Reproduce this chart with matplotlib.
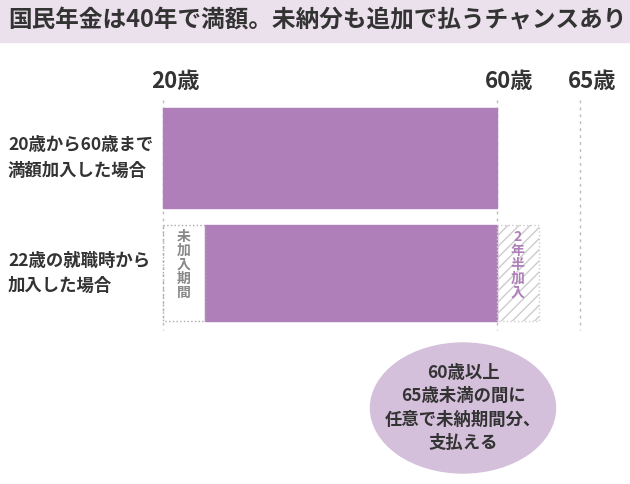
import numpy as np
import matplotlib.pyplot as plt
from matplotlib.patches import Rectangle, Ellipse

plt.rcParams['font.family'] = ['Noto Sans CJK JP', 'DejaVu Sans']

title = "国民年金は40年で満額。未納分も追加で払うチャンスあり"
tick_ages = [20, 60, 65]
tick_labels = ["20歳", "60歳", "65歳"]
row_labels = ["20歳から60歳まで\n満額加入した場合", "22歳の就職時から\n加入した場合"]
bar_start = [20, 25]   # as drawn (not to scale)
bar_end = [60, 60]
extra_end = 62.5       # 2年半加入

PURPLE = "#ae7fb8"
LIGHT = "#ebe1ec"
BUBBLE = "#d5c0dc"
GRAY = "#888888"

# the chart's age axis is piecewise: 20-60 and 60-65 have different widths
def X(age):
    return np.interp(age, [20, 60, 65], [163, 497, 580])

fig = plt.figure(figsize=(6.3, 4.84), dpi=100)
ax = fig.add_axes([0, 0, 1, 1])
ax.set_xlim(0, 630)
ax.set_ylim(484, 0)
ax.axis("off")

# title band
ax.add_patch(Rectangle((0, 0), 630, 42, color=LIGHT, zorder=0))
ax.text(8, 21, title, fontsize=17, fontweight="bold", va="center", ha="left", color="#333333")

# guide lines
for a, lab in zip(tick_ages, tick_labels):
    ax.plot([X(a), X(a)], [100, 330], ls=(0, (2, 3)), color="#bbbbbb", lw=1, zorder=1)
    ax.text(X(a) + 12, 82, lab, fontsize=16, fontweight="bold", ha="center",
            va="center", color="#333333")

rows = [(108, 100), (225, 96)]
for (y0, h), s, e, lab in zip(rows, bar_start, bar_end, row_labels):
    ax.add_patch(Rectangle((X(s), y0), X(e) - X(s), h, color=PURPLE, zorder=2))
    ax.text(8, y0 + h / 2, lab, fontsize=12.5, fontweight="bold", ha="left",
            va="center", color="#333333", linespacing=1.5)

# unenrolled period
y0, h = rows[1]
ax.add_patch(Rectangle((X(20), y0), X(bar_start[1]) - X(20), h, fill=False, ls=":",
                       ec="#aaaaaa", lw=1, zorder=2))
ax.text((X(20) + X(bar_start[1])) / 2, y0 + 40, "未\n加\n入\n期\n間", fontsize=10,
        fontweight="bold", ha="center", va="center", color=GRAY, linespacing=1.0)
# extra enrollment hatched
ax.add_patch(Rectangle((X(60), y0), X(extra_end) - X(60), h, fill=False, hatch="///",
                       ec="#cccccc", lw=0, zorder=2))
ax.add_patch(Rectangle((X(60), y0), X(extra_end) - X(60), h, fill=False, ls=":",
                       ec="#cccccc", lw=1, zorder=2))
ax.text((X(60) + X(extra_end)) / 2, y0 + 40, "2\n年\n半\n加\n入", fontsize=10,
        fontweight="bold", ha="center", va="center", color=PURPLE, linespacing=1.0)

# speech bubble
ax.add_patch(Ellipse((463, 408), 185, 130, color=BUBBLE, zorder=2))
ax.text(463, 408, "60歳以上\n65歳未満の間に\n任意で未納期間分、\n支払える", fontsize=12.5,
        fontweight="bold", ha="center", va="center", color="#333333",
        linespacing=1.4, zorder=3)

fig.savefig("out.png", dpi=100)
